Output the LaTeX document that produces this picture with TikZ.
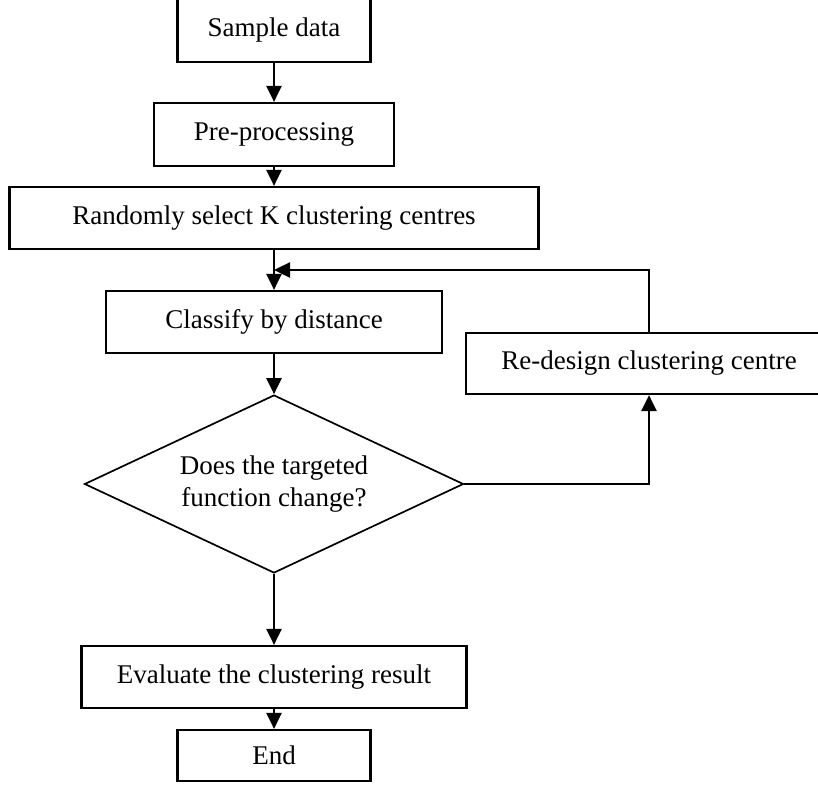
\documentclass[tikz,border=0pt]{standalone}
\usepackage{fontspec}
\setmainfont{Liberation Serif}
\usetikzlibrary{shapes.geometric,arrows.meta}
\tikzset{
  proc/.style={draw=black, line width=2.2pt, rectangle, inner sep=0pt, font=\fontsize{27}{32}\selectfont},
  cond/.style={draw=black, line width=1.7pt, diamond, aspect=2.13, inner sep=0pt, align=center, font=\fontsize{27}{32}\selectfont},
  link/.style={draw=black, line width=2.4pt, -{Triangle[length=16pt,width=15pt]}},
}

\begin{document}
\begin{tikzpicture}[x=1pt,y=-1pt]
  \useasboundingbox (0,0) rectangle (818,784);

  % main column
  \node[proc, minimum width=193pt, minimum height=64pt] (sample) at (274,30) {Sample data};
  \node[proc, minimum width=240pt, minimum height=63pt] (pre) at (274,134.5) {Pre-processing};
  \node[proc, minimum width=529pt, minimum height=62pt] (rand) at (274,218) {Randomly select K clustering centres};
  \node[proc, minimum width=336pt, minimum height=62pt] (classify) at (274,322) {Classify by distance};
  \node[cond, minimum width=379pt, minimum height=178pt] (check) at (274,484) {Does the targeted\\function change?};
  \node[proc, minimum width=385pt, minimum height=62pt] (eval) at (274,677) {Evaluate the clustering result};
  \node[proc, minimum width=193pt, minimum height=51pt] (end) at (274,755.5) {End};

  % feedback branch
  \node[proc, minimum width=366pt, minimum height=61pt] (redesign) at (649,363.5) {Re-design clustering centre};
  \coordinate (merge) at (274,270);

  \draw[link] (sample.south) -- (pre.north);
  \draw[link] (pre.south) -- (rand.north);
  \draw[link] (rand.south) -- (classify.north);
  \draw[link] (classify.south) -- (check.north);
  \draw[link] (check.south) -- (eval.north);
  \draw[link] (eval.south) -- (end.north);
  \draw[link] (check.east) -| (redesign.south);
  \draw[link] (redesign.north) |- (merge);
\end{tikzpicture}
\end{document}
